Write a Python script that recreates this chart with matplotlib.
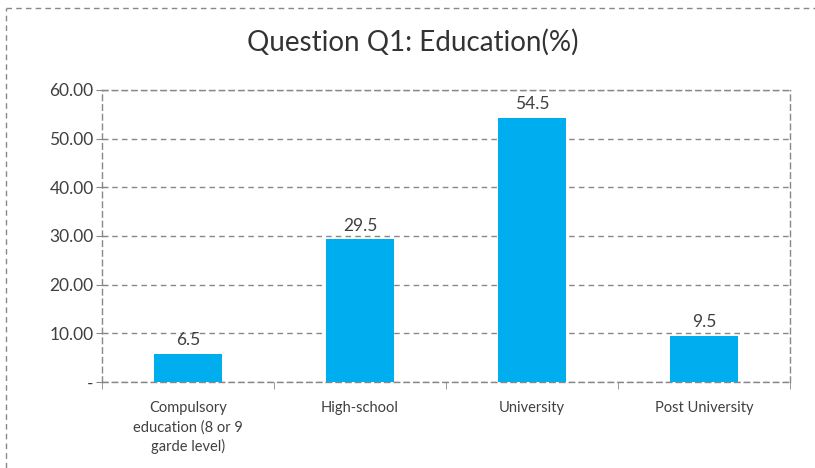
import matplotlib
matplotlib.use("Agg")
import matplotlib.pyplot as plt
from matplotlib.lines import Line2D
from matplotlib.ticker import FixedLocator

categories = ["Compulsory\neducation (8 or 9\ngarde level)", "High-school", "University", "Post University"]
bar_heights = [5.8, 29.3, 54.3, 9.5]
value_labels = ["6.5", "29.5", "54.5", "9.5"]
y_ticks = [0, 10, 20, 30, 40, 50, 60]
y_tick_labels = ["-", "10.00", "20.00", "30.00", "40.00", "50.00", "60.00"]
title = "Question Q1: Education(%)"

plt.rcParams['font.family'] = ['Lato', 'DejaVu Sans']
text_col = "#404040"
bar_col = "#00AEEF"
grid_col = "#888888"

fig = plt.figure(figsize=(8.15, 4.68), dpi=100)
ax = fig.add_axes([102/815, 1-382/468, (790-102)/815, (382-90)/468])

x = list(range(len(categories)))
ax.bar(x, bar_heights, width=0.39, color=bar_col, zorder=3)
for xi, h, lab in zip(x, bar_heights, value_labels):
    ax.text(xi, h + 1.2, lab, ha="center", va="bottom", fontsize=12.5, color=text_col)

ax.set_xlim(-0.5, len(categories) - 0.5)
ax.set_ylim(0, 60)
ax.set_yticks(y_ticks)
ax.set_yticklabels(y_tick_labels, fontsize=12.5, color=text_col)
ax.set_xticks(x)
ax.set_xticklabels(categories, fontsize=10.5, color=text_col, linespacing=1.4)
ax.tick_params(axis="x", which="major", length=0, pad=14)
ax.xaxis.set_minor_locator(FixedLocator([i - 0.5 for i in range(len(categories) + 1)]))
ax.tick_params(axis="x", which="minor", length=5, color=grid_col, direction="out")
ax.tick_params(axis="y", length=8, direction="inout", color=grid_col, pad=2)

ax.yaxis.grid(True, linestyle=(0, (4, 3)), color=grid_col, linewidth=1, zorder=0)
for s in ax.spines.values():
    s.set_linestyle((0, (4, 3)))
    s.set_color(grid_col)
    s.set_linewidth(1)

fig.text(413/815, 1-42/468, title, ha="center", va="center", fontsize=20, color="#333333")

# dashed figure border (extends beyond right and bottom edges)
fig.add_artist(Line2D([6/815, 1.0], [1-8/468, 1-8/468], transform=fig.transFigure,
                      linestyle=(0, (4, 3)), color=grid_col, linewidth=1))
fig.add_artist(Line2D([6/815, 6/815], [0.0, 1-8/468], transform=fig.transFigure,
                      linestyle=(0, (4, 3)), color=grid_col, linewidth=1))

fig.savefig("out.png", dpi=100)
